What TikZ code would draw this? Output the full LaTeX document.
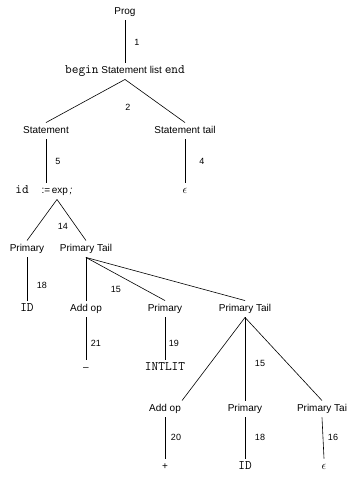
\documentclass[tikz,border=0pt]{standalone}
\usepackage{fontspec}
\setmainfont{Liberation Sans}
\tikzset{
  sym/.style={inner xsep=1pt,inner ysep=3.5pt,text height=7.5pt,text depth=2pt,font=\fontsize{10}{12}\selectfont},
  tok/.style={sym,font=\fontsize{13}{14}\ttfamily},
  eps/.style={sym,font=\fontsize{12}{14}\selectfont},
  lbl/.style={inner sep=0pt,font=\fontsize{9}{11}\selectfont},
  edge/.style={color=black,line width=0.6pt},
}
\newcommand{\kw}[1]{{\fontsize{13}{14}\ttfamily #1}}
\begin{document}
\begin{tikzpicture}[x=1pt,y=-1pt]
            \useasboundingbox (0,0) rectangle (348,477);
            %
            \node (prog) at (125,12) [sym] {Prog};
            \node (stmtlist) at (125,71) [sym] {\kw{begin} Statement list \kw{end}};
            \node (stmt) at (46,131) [sym] {Statement};
            \node (stmttail) at (185,131) [sym] {Statement tail};
            \node (idtok) at (22,191) [tok] {id};
            \node (assign) at (57,191) [sym] {:=\,exp\,\textit{;}};
            \node (eps1) at (185,191) [eps] {$\epsilon$};
            \node (prim1) at (27,249) [sym] {Primary};
            \node (ptail1) at (86,249) [sym] {Primary Tail};
            \node (id1) at (27,309) [tok] {ID};
            \node (addop1) at (86,309) [sym] {Add op};
            \node (prim2) at (165,309) [sym] {Primary};
            \node (ptail2) at (245,309) [sym] {Primary Tail};
            \node (minus) at (86,368) [sym] {--};
            \node (intlit) at (165,368) [tok] {INTLIT};
            \node (addop2) at (165,409) [sym] {Add op};
            \node (prim3) at (245,409) [sym] {Primary};
            \node (ptail3) at (322,409) [sym] {Primary Tai};
            \node (plus) at (165,467) [sym] {+};
            \node (id2) at (245,467) [tok] {ID};
            \node (eps2) at (324,467) [eps] {$\epsilon$};
            %
            % rule numbers
            \node (r1) at (137,42) [lbl] {1};
            \node (r2) at (128,107) [lbl] {2};
            \node (r5) at (58,161) [lbl] {5};
            \node (r4) at (202,161) [lbl] {4};
            \node (r14) at (63,226) [lbl] {14};
            \node (r18a) at (42,285) [lbl] {18};
            \node (r15a) at (116,289) [lbl] {15};
            \node (r21) at (96,343) [lbl] {21};
            \node (r19) at (174,343) [lbl] {19};
            \node (r15b) at (260,363) [lbl] {15};
            \node (r20) at (176,437) [lbl] {20};
            \node (r18b) at (260,437) [lbl] {18};
            \node (r16) at (333,437) [lbl] {16};
            %
            \draw [edge] (prog.south) to (stmtlist.north);
            \draw [edge] (stmtlist.south) to (stmt.north);
            \draw [edge] (stmtlist.south) to (stmttail.north);
            \draw [edge] (stmt.south) to (stmt.south |- assign.north);
            \draw [edge] (stmttail.south) to (eps1.north);
            \draw [edge] (assign.south) to (prim1.north);
            \draw [edge] (assign.south) to (ptail1.north);
            \draw [edge] (prim1.south) to (id1.north);
            \draw [edge] (ptail1.south) to (addop1.north);
            \draw [edge] (ptail1.south) to (prim2.north);
            \draw [edge] (ptail1.south) to (ptail2.north);
            \draw [edge] (addop1.south) to (minus.north);
            \draw [edge] (prim2.south) to (intlit.north);
            \draw [edge] (ptail2.south) to (addop2.north east);
            \draw [edge] (ptail2.south) to (prim3.north);
            \draw [edge] (ptail2.south) to (ptail3.north);
            \draw [edge] (addop2.south) to (plus.north);
            \draw [edge] (prim3.south) to (id2.north);
            \draw [edge] (ptail3.south) to (eps2.north);
            %
\end{tikzpicture}
\end{document}
